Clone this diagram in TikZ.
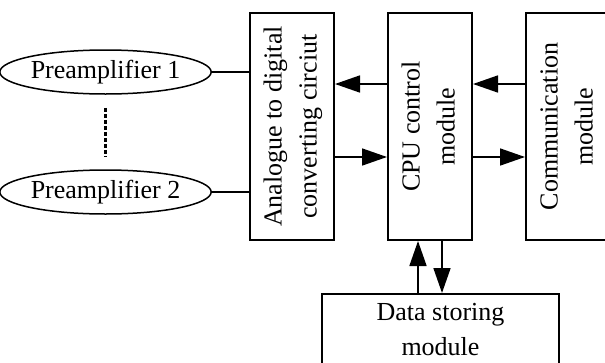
\documentclass[tikz,border=0pt]{standalone}
\usepackage{fontspec}
\setmainfont{Liberation Serif}
\usepackage{graphicx}
\usetikzlibrary{arrows.meta,shapes.geometric}

\newcommand{\vtext}[1]{\rotatebox{90}{\begin{tabular}{@{}c@{}}#1\end{tabular}}}

\begin{document}
\begin{tikzpicture}
	  [
	    x                       = 1pt,
	    y                       = -1pt,
	    every node/.style       = {font=\fontsize{26}{35}\selectfont},
	    block/.style            = {
			draw,
			line width=2pt,
			minimum width=84pt,
			minimum height=227pt,
			inner sep=0pt
		},
		amp/.style              = {
			draw,
			ellipse,
			line width=1.5pt,
			minimum width=191pt,
			minimum height=44pt,
			inner sep=0pt
		},
		link/.style             = {line width=2.5pt},
		arr/.style              = {
			line width=1.6pt,
			-{Triangle[length=25pt,width=17pt]}
		}
		]
		\useasboundingbox (0,0) rectangle (605,362);
		\clip (0,0) rectangle (605,362);

		\node [amp] (P1) at (105.5,72) {Preamplifier 1};
		\node [amp] (P2) at (105.5,192) {Preamplifier 2};

		\node [block] (ADC) at (292,126.5) {\vtext{Analogue to digital\\converting circiut}};
		\node [block] (CPU) at (430,126.5) {\vtext{CPU control\\module}};
		\node [block] (COM) at (568,126.5) {\vtext{Communication\\module}};
		\node [draw, line width=2pt, minimum width=237pt, minimum height=72pt,
			align=center, inner sep=0pt] (DS) at (440.5,330) {Data storing\\module};

		\coordinate (up) at (0,84);
		\coordinate (lo) at (0,157);
		\coordinate (l) at (418,0);
		\coordinate (r) at (442,0);

		\draw [line width=3pt, dash pattern=on 4pt off 2pt,
			shorten <=13pt, shorten >=13pt] (P1.south) -- (P2.north);
		\draw [link] (P1.east) -- (P1.east -| ADC.west);
		\draw [link] (P2.east) -- (P2.east -| ADC.west);

		\draw [arr] (CPU.west |- up) -- (ADC.east |- up);
		\draw [arr] (COM.west |- up) -- (CPU.east |- up);
		\draw [arr] (ADC.east |- lo) -- (CPU.west |- lo);
		\draw [arr] (CPU.east |- lo) -- (COM.west |- lo);

		\draw [arr] (DS.north -| l) -- (CPU.south -| l);
		\draw [arr] (CPU.south -| r) -- (DS.north -| r);
	\end{tikzpicture}
\end{document}
